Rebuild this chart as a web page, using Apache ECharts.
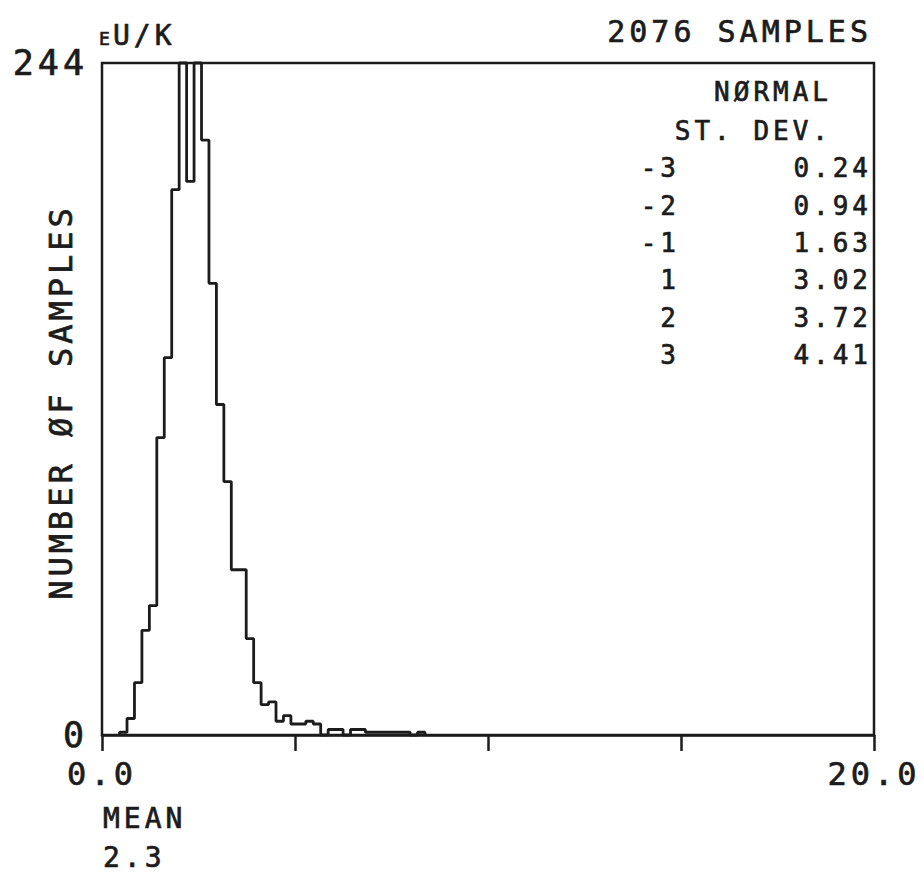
<!DOCTYPE html>
<html>
<head>
<meta charset="utf-8">
<script src="https://cdn.jsdelivr.net/npm/echarts/dist/echarts.min.js"></script>
<style>
  html, body { margin: 0; padding: 0; background: #fff; }
  #chart { width: 924px; height: 876px; letter-spacing: 4px; }
</style>
</head>
<body>
<div id="chart"></div>
<script>
// ---- data ----
const firstEdge = 0.455;      // left edge of first bin (eU/K)
const binWidth = 0.193;       // bin width (eU/K)
const counts = [1, 6, 19, 38, 47, 108, 137, 198, 244, 201, 244, 216, 164, 120, 92, 60, 60, 35, 19, 11, 12, 5, 7, 4, 4, 5, 4,
                0, 2, 2, 0, 2, 2, 1, 1, 1, 1, 1, 1, 0, 1];
const xMin = 0, xMax = 20, xTickStep = 5;
const xLabelValues = [0, 20];
const yMin = 0, yMax = 244;
const yLabelValues = [0, 244];
const unitLabel = 'U/K';
const unitPrefix = 'E';
const sampleText = '2076 SAMPLES';
const yTitle = 'NUMBER ØF SAMPLES';
const legendHeader = ['NØRMAL', 'ST. DEV.'];
const sdLevels = ['-3', '-2', '-1', '1', '2', '3'];
const sdValues = ['0.24', '0.94', '1.63', '3.02', '3.72', '4.41'];
const meanLabel = 'MEAN';
const meanValue = '2.3';

// ---- build step outline from the bins ----
const pts = [[firstEdge, 0]];
counts.forEach((c, i) => pts.push([firstEdge + i * binWidth, c]));
pts.push([firstEdge + counts.length * binWidth, 0]);

const FONT = 'DejaVu Sans Mono';
const INK = '#1c1c1c';
const SP = 4; // css letter-spacing compensation for right aligned text
const TW = 0.7; // slight stroke to mimic plotter pen weight

const graphics = [];
function txt(text, x, y, size, align, extra) {
  graphics.push(Object.assign({
    type: 'text', x: x, y: y, silent: true,
    style: {
      text: text, fill: INK, stroke: INK, lineWidth: TW,
      font: size + 'px "' + FONT + '"', textAlign: align, textVerticalAlign: 'middle'
    }
  }, extra || {}));
}
txt(sampleText, 868 + SP, 31, 30, 'right');
txt(unitPrefix, 99, 38, 18, 'left');
txt(unitLabel, 113, 35, 28, 'left');
txt(yTitle, 61, 402, 32, 'center', { rotation: Math.PI / 2 });
txt(legendHeader[0], 828 + SP, 92, 26, 'right');
txt(legendHeader[1], 828 + SP, 131, 26, 'right');
const rowY = [168, 206, 243, 280, 318, 355];
sdLevels.forEach((lv, i) => {
  txt(lv, 676 + SP, rowY[i], 26, 'right');
  txt(sdValues[i], 868 + SP, rowY[i], 26, 'right');
});
txt(meanLabel, 103, 818, 28, 'left');
txt(meanValue, 103, 857, 28, 'left');

const chart = echarts.init(document.getElementById('chart'), null, { renderer: 'svg' });
chart.setOption({
  animation: false,
  backgroundColor: '#fff',
  grid: {
    left: 102, top: 63, right: 50, bottom: 141,
    show: true, borderColor: INK, borderWidth: 2.5, backgroundColor: 'transparent'
  },
  xAxis: {
    type: 'value', min: xMin, max: xMax, interval: xTickStep,
    axisLine: { show: true, lineStyle: { color: INK, width: 2.5 } },
    axisTick: { show: true, length: 16, lineStyle: { color: INK, width: 2.5 } },
    splitLine: { show: false },
    axisLabel: {
      margin: 23, color: INK, fontFamily: FONT, fontSize: 32,
      textBorderColor: INK, textBorderWidth: TW,
      formatter: v => xLabelValues.includes(v) ? v.toFixed(1) : ''
    }
  },
  yAxis: {
    type: 'value', min: yMin, max: yMax, interval: yMax - yMin,
    axisLine: { show: false }, axisTick: { show: false }, splitLine: { show: false },
    axisLabel: {
      margin: 14, color: INK, fontFamily: FONT, fontSize: 35,
      textBorderColor: INK, textBorderWidth: TW,
      formatter: v => yLabelValues.includes(v) ? String(v) : ''
    }
  },
  series: [{
    type: 'line', step: 'end', data: pts, showSymbol: false, clip: false,
    lineStyle: { color: INK, width: 2.8 }
  }],
  graphic: graphics
});
</script>
</body>
</html>
